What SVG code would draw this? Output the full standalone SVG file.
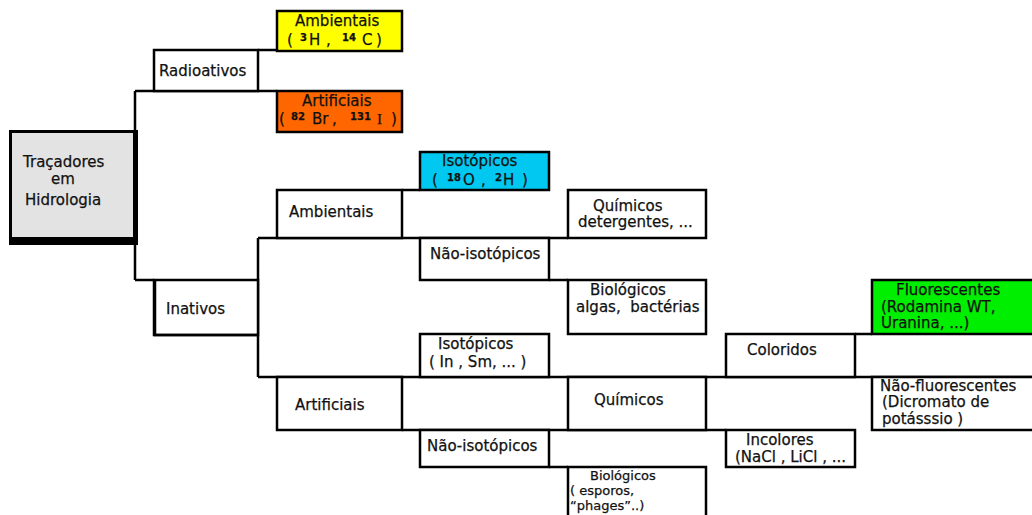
<svg xmlns="http://www.w3.org/2000/svg" width="1032" height="515" viewBox="0 0 1032 515">
<style>
text{font-family:"DejaVu Sans","Verdana",sans-serif;font-size:15px;fill:#111;stroke:#111;stroke-width:0.25}
.b{stroke:#000;stroke-width:2.5}
.w{fill:#fff}
.ln{stroke:#000;stroke-width:2.5;fill:none}
.sup{font-size:10px;font-weight:bold}
.sm{font-size:13px}
</style>
<rect width="1032" height="515" fill="#fff"/>
<g id="connectors">
<path class="ln" d="M135 91V280M135 91H277M258 50H277M135 280H154M258 238V377M258 238H568M402 190H420M549 280H568M258 377H1040M402 430H726M549 467H568M855 334H872"/>
</g>
<g id="root">
<rect x="9" y="130" width="129" height="115" fill="#000"/>
<rect x="12" y="133" width="121" height="104" fill="#e3e3e3"/>
<text x="23" y="167">Traçadores</text>
<text x="51" y="184">em</text>
<text x="25" y="205">Hidrologia</text>
</g>
<g id="radioativos">
<rect class="b w" x="154" y="50" width="104" height="41"/>
<text x="159" y="76">Radioativos</text>
</g>
<g id="rad-ambientais">
<rect class="b" x="277" y="11" width="125" height="40" fill="#ffff00"/>
<text x="295" y="26">Ambientais</text>
<text y="45"><tspan x="287">(</tspan><tspan x="300" class="sup" dy="-4">3</tspan><tspan x="309" dy="4">H</tspan><tspan x="326">,</tspan><tspan x="342" class="sup" dy="-4">14</tspan><tspan x="362" dy="4">C</tspan><tspan x="376">)</tspan></text>
</g>
<g id="rad-artificiais">
<rect class="b" x="277" y="91" width="125" height="41" fill="#ff6600"/>
<text x="302" y="106">Artificiais</text>
<text y="124"><tspan x="279">(</tspan><tspan x="291" class="sup" dy="-4">82</tspan><tspan x="312" dy="4">Br</tspan><tspan x="332">,</tspan><tspan x="350" class="sup" dy="-4">131</tspan><tspan x="377" dy="4" font-family="Liberation Serif">I</tspan><tspan x="391">)</tspan></text>
</g>
<g id="inativos">
<rect class="b w" x="154" y="280" width="104" height="55"/>
<path class="ln" stroke-width="4" d="M155 280V335H258"/>
<text x="166" y="314">Inativos</text>
</g>
<g id="in-ambientais">
<rect class="b w" x="277" y="190" width="125" height="48"/>
<text x="289" y="217">Ambientais</text>
</g>
<g id="in-artificiais">
<rect class="b w" x="277" y="377" width="125" height="53"/>
<text x="295" y="410">Artificiais</text>
</g>
<g id="isotopicos-amb">
<rect class="b" x="420" y="152" width="129" height="38" fill="#00c8f0"/>
<text x="442" y="166">Isotópicos</text>
<text y="185"><tspan x="432">(</tspan><tspan x="447" class="sup" dy="-4">18</tspan><tspan x="463" dy="4">O</tspan><tspan x="481">,</tspan><tspan x="495" class="sup" dy="-4">2</tspan><tspan x="503" dy="4">H</tspan><tspan x="522">)</tspan></text>
</g>
<g id="naoiso-amb">
<rect class="b w" x="420" y="238" width="129" height="42"/>
<text x="430" y="259">Não-isotópicos</text>
</g>
<g id="quimicos-amb">
<rect class="b w" x="568" y="190" width="138" height="48"/>
<text x="593" y="211">Químicos</text>
<text x="578" y="227">detergentes, ...</text>
</g>
<g id="biologicos-amb">
<rect class="b w" x="568" y="280" width="138" height="54"/>
<text x="590" y="295">Biológicos</text>
<text x="576" y="312" xml:space="preserve">algas,  bactérias</text>
</g>
<g id="isotopicos-art">
<rect class="b w" x="420" y="334" width="129" height="43"/>
<text x="438" y="349">Isotópicos</text>
<text x="429" y="367">( In , Sm, ... )</text>
</g>
<g id="naoiso-art">
<rect class="b w" x="420" y="430" width="129" height="37"/>
<text x="427" y="451">Não-isotópicos</text>
</g>
<g id="quimicos-art">
<rect class="b w" x="568" y="377" width="138" height="53"/>
<text x="594" y="405">Químicos</text>
</g>
<g id="biologicos-art">
<rect class="b w" x="568" y="467" width="138" height="60"/>
<text x="590" y="480" class="sm">Biológicos</text>
<text x="570" y="495" class="sm">( esporos,</text>
<text x="570" y="510" class="sm">“phages”..)</text>
</g>
<g id="coloridos">
<rect class="b w" x="726" y="334" width="129" height="43"/>
<text x="747" y="355">Coloridos</text>
</g>
<g id="incolores">
<rect class="b w" x="726" y="430" width="129" height="37"/>
<text x="746" y="445">Incolores</text>
<text x="735" y="462">(NaCl , LiCl , ...</text>
</g>
<g id="fluorescentes">
<rect class="b" x="872" y="280" width="170" height="54" fill="#00ee00"/>
<text x="896" y="295">Fluorescentes</text>
<text x="881" y="312">(Rodamina WT,</text>
<text x="881" y="328">Uranina, ...)</text>
</g>
<g id="naofluorescentes">
<rect class="b w" x="872" y="377" width="170" height="53"/>
<text x="880" y="391">Não-fluorescentes</text>
<text x="882" y="407">(Dicromato de</text>
<text x="882" y="424">potásssio )</text>
</g>
</svg>
